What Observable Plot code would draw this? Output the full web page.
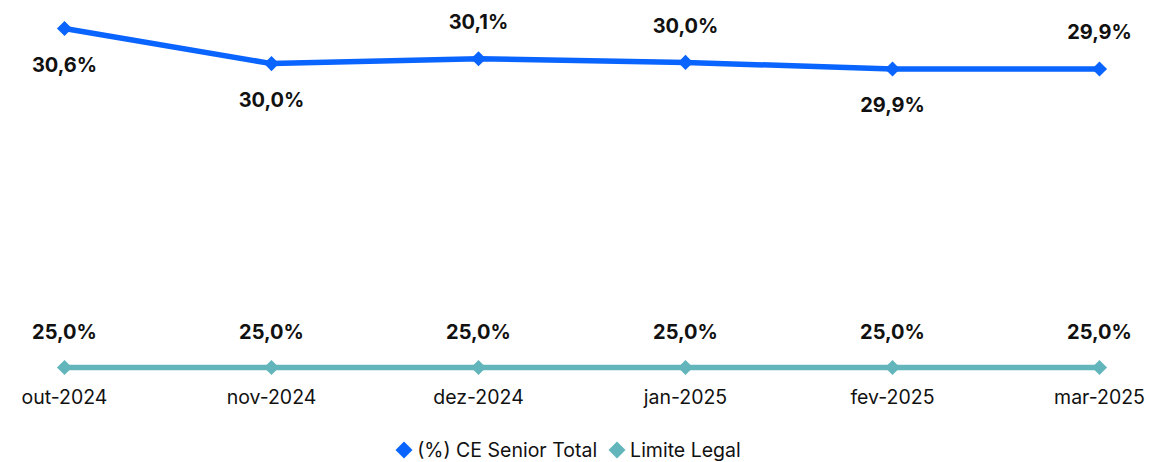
<!DOCTYPE html>
<html><head><meta charset="utf-8">
<script src="https://cdn.jsdelivr.net/npm/d3@7"></script>
<script src="https://cdn.jsdelivr.net/npm/@observablehq/plot@0.6"></script>
<style>
body{margin:0;background:#fff;font-family:Inter,"Liberation Sans",sans-serif;}
#legend{display:flex;justify-content:center;align-items:center;gap:14px;font-size:19.5px;color:#111;height:32px;margin-top:4px;margin-left:-10px}
.it{display:flex;align-items:center;gap:4px}
.dm{width:12px;height:12px;transform:rotate(45deg);display:inline-block;margin-right:3px}
</style></head><body>
<div id="chart"></div>
<div id="legend"></div>
<script>
const months = ["out-2024","nov-2024","dez-2024","jan-2025","fev-2025","mar-2025"];
const ceSenior = [30.6, 30.02, 30.1, 30.04, 29.93, 29.93];
const limiteLegal = [25.0, 25.0, 25.0, 25.0, 25.0, 25.0];
const ceLabelSide = ["below","below","above","above","below","above"];
const seriesNames = ["(%) CE Senior Total","Limite Legal"];
const colors = ["#0A64FF","#62B6BB"];

const fmt = v => v.toFixed(1).replace(".", ",") + "%";
const ce = months.map((m,i)=>({m, v:ceSenior[i], side:ceLabelSide[i]}));
const lim = months.map((m,i)=>({m, v:limiteLegal[i]}));

const chart = Plot.plot({
  width:1149, height:430,
  marginLeft:63, marginRight:50, marginTop:10, marginBottom:63,
  style:{fontFamily:"Inter, 'Liberation Sans', sans-serif", fontSize:"19px", color:"#111"},
  x:{type:"point", domain:months, padding:0, label:null},
  y:{domain:[25,30.6], range:[367,28], axis:null},
  marks:[
    Plot.axisX({tickSize:0, tickPadding:23, fontSize:19.5, label:null}),
    Plot.line(lim,{x:"m",y:"v",stroke:colors[1],strokeWidth:5.5}),
    Plot.dot(lim,{x:"m",y:"v",symbol:"diamond2",r:6.8,fill:colors[1]}),
    Plot.text(lim,{x:"m",y:"v",text:d=>fmt(d.v),dy:-35,fontWeight:"bold",fontSize:20,fill:"#111"}),
    Plot.line(ce,{x:"m",y:"v",stroke:colors[0],strokeWidth:5.5}),
    Plot.dot(ce,{x:"m",y:"v",symbol:"diamond2",r:6.8,fill:colors[0]}),
    Plot.text(ce.filter(d=>d.side==="above"),{x:"m",y:"v",text:d=>fmt(d.v),dy:-36,fontWeight:"bold",fontSize:20,fill:"#111"}),
    Plot.text(ce.filter(d=>d.side==="below"),{x:"m",y:"v",text:d=>fmt(d.v),dy:37,fontWeight:"bold",fontSize:20,fill:"#111"})
  ]
});
document.getElementById("chart").appendChild(chart);
const lg = document.getElementById("legend");
seriesNames.forEach((n,i)=>{
  const it=document.createElement("span");it.className="it";
  const d=document.createElement("span");d.className="dm";d.style.background=colors[i];
  it.appendChild(d);it.appendChild(document.createTextNode(n));lg.appendChild(it);
});
</script></body></html>
